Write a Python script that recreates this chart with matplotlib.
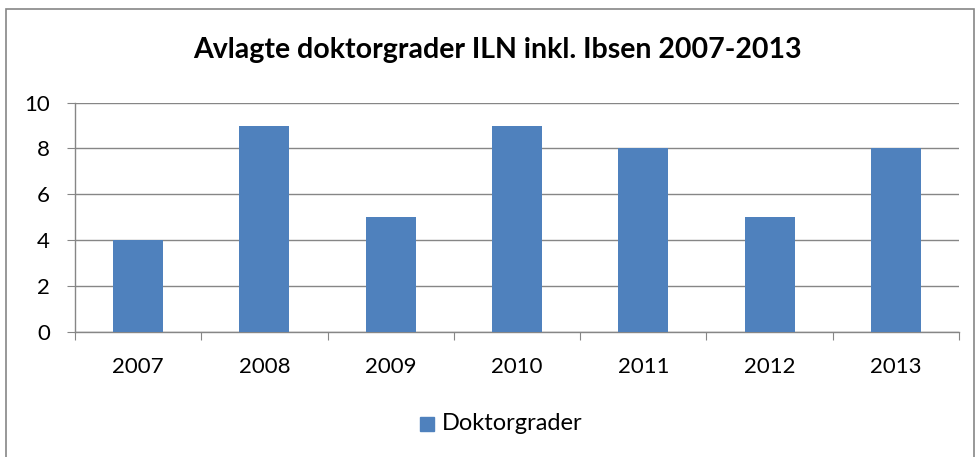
import matplotlib
matplotlib.use("Agg")
import matplotlib.pyplot as plt
from matplotlib.patches import Rectangle
import numpy as np

years = ["2007", "2008", "2009", "2010", "2011", "2012", "2013"]
values = [4, 9, 5, 9, 8, 5, 8]
title = "Avlagte doktorgrader ILN inkl. Ibsen 2007-2013"
series_name = "Doktorgrader"

W, H = 978, 457
fig = plt.figure(figsize=(W / 100, H / 100), dpi=100)
plt.rcParams['font.family'] = ['Lato', 'DejaVu Sans']

# plot area in pixel coords
x0, x1 = 75, 959
y_top, y_bot = 102.7, 331.7
ax = fig.add_axes([x0 / W, 1 - y_bot / H, (x1 - x0) / W, (y_bot - y_top) / H])

grid_c = "#868686"
bar_c = "#4F81BD"
x = np.arange(len(years))
ax.bar(x, values, width=0.396, color=bar_c, zorder=3)
ax.set_xlim(-0.5, len(years) - 0.5)
ax.set_ylim(0, 10)
ax.set_yticks(range(0, 11, 2))
ax.yaxis.grid(True, color=grid_c, linewidth=1.0, zorder=0)
ax.set_axisbelow(True)
for s in ["top", "right"]:
    ax.spines[s].set_visible(False)
for s in ["left", "bottom"]:
    ax.spines[s].set_color(grid_c)
    ax.spines[s].set_linewidth(1.0)
ax.tick_params(axis="y", length=6, color=grid_c, labelsize=16, pad=12)
# x: category boundary ticks
ax.set_xticks(np.arange(-0.5, len(years) + 0.5, 1.0), minor=False)
ax.set_xticklabels([])
ax.set_xticks(x, minor=True)
ax.set_xticklabels(years, minor=True)
ax.tick_params(axis="x", which="major", length=6, color=grid_c)
ax.tick_params(axis="x", which="minor", length=0, labelsize=16, pad=18)

fig.text(497 / W, 1 - 50 / H, title, ha="center", va="center",
         fontsize=20.5, fontweight="bold")

# legend
fig.patches.append(Rectangle((420 / W, 1 - 431 / H), 14 / W, 14 / H,
                             transform=fig.transFigure, color=bar_c))
fig.text(442 / W, 1 - 424 / H, series_name, ha="left", va="center", fontsize=17)

# chart border
fig.patches.append(Rectangle((6.5 / W, -0.05), (974 - 6.5) / W, 1.05 - 9.5 / H,
                             transform=fig.transFigure, fill=False,
                             edgecolor=grid_c, linewidth=1.2))

fig.savefig("out.png", dpi=100)
